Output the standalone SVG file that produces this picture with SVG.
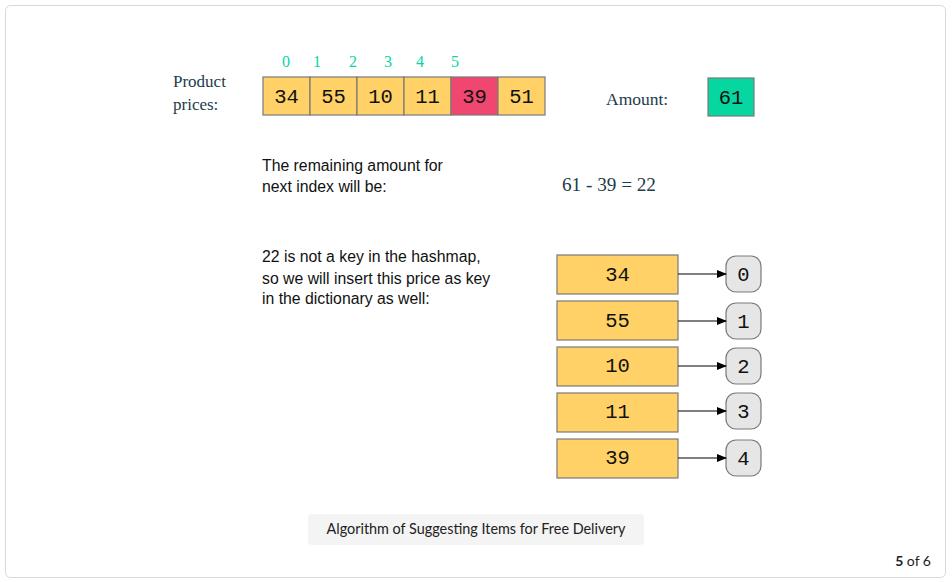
<svg xmlns="http://www.w3.org/2000/svg" width="952" height="582" viewBox="0 0 952 582">
<defs>
<style>
.cell{stroke:#7a7a7a;stroke-width:1.2}
.y{fill:#FFD166}
.r{fill:#EF476F}
.g{fill:#06D6A0}
.mono{font-family:"Liberation Mono","DejaVu Sans Mono",monospace;font-size:20.5px;fill:#111;text-anchor:middle}
.serif{font-family:"Liberation Serif","DejaVu Serif",serif;fill:#1d3b4a}
.sans{font-family:"Liberation Sans",Arial,sans-serif;font-size:15.8px;fill:#111}
.idx{font-family:"Liberation Serif",serif;font-size:16px;fill:#06D6A0;text-anchor:middle}
.node{fill:#e6e6e6;stroke:#7a7a7a;stroke-width:1.2}
.conn{stroke:#000;stroke-width:1.2;fill:none;marker-end:url(#ah)}
</style>
<marker id="ah" markerWidth="10" markerHeight="8" refX="9" refY="4" orient="auto" markerUnits="userSpaceOnUse">
<path d="M0,0 L10,4 L0,8 z" fill="#000"/>
</marker>
</defs>
<rect x="0" y="0" width="952" height="582" fill="#fff"/>
<rect x="5.5" y="5.5" width="940" height="572" rx="5" fill="#fff" stroke="#d9d9d9"/>

<g id="labels">
<text class="serif" x="173" y="87" font-size="17">Product</text>
<text class="serif" x="173" y="110" font-size="17">prices:</text>
<text class="idx" x="286" y="67">0</text>
<text class="idx" x="317" y="67">1</text>
<text class="idx" x="353" y="67">2</text>
<text class="idx" x="388" y="67">3</text>
<text class="idx" x="420" y="67">4</text>
<text class="idx" x="455" y="67">5</text>
<text class="serif" x="606" y="105" font-size="17.5">Amount:</text>
<text class="sans" x="262" y="171">The remaining amount for</text>
<text class="sans" x="262" y="192">next index will be:</text>
<text class="serif" x="562" y="191" font-size="19.2">61 - 39 = 22</text>
<text class="sans" x="262" y="262">22 is not a key in the hashmap,</text>
<text class="sans" x="262" y="284">so we will insert this price as key</text>
<text class="sans" x="262" y="304">in the dictionary as well:</text>
</g>

<g id="array">
<rect class="cell y" x="263" y="77" width="47" height="38"/>
<rect class="cell y" x="310" y="77" width="47" height="38"/>
<rect class="cell y" x="357" y="77" width="47" height="38"/>
<rect class="cell y" x="404" y="77" width="47" height="38"/>
<rect class="cell r" x="451" y="77" width="47" height="38"/>
<rect class="cell y" x="498" y="77" width="47" height="38"/>
<text class="mono" x="286.5" y="103">34</text>
<text class="mono" x="333.5" y="103">55</text>
<text class="mono" x="380.5" y="103">10</text>
<text class="mono" x="427.5" y="103">11</text>
<text class="mono" x="474.5" y="103">39</text>
<text class="mono" x="521.5" y="103">51</text>
</g>

<g id="amount">
<rect class="cell g" x="708" y="78" width="46" height="38"/>
<text class="mono" x="731" y="104">61</text>
</g>

<g id="keys">
<rect class="cell y" x="557" y="255" width="121" height="39"/>
<rect class="cell y" x="557" y="301" width="121" height="39"/>
<rect class="cell y" x="557" y="347" width="121" height="39"/>
<rect class="cell y" x="557" y="393" width="121" height="39"/>
<rect class="cell y" x="557" y="439" width="121" height="39"/>
<text class="mono" x="617.5" y="281">34</text>
<text class="mono" x="617.5" y="327">55</text>
<text class="mono" x="617.5" y="372">10</text>
<text class="mono" x="617.5" y="418">11</text>
<text class="mono" x="617.5" y="464">39</text>
</g>

<g id="values">
<rect class="node" x="726" y="256" width="35" height="36" rx="10"/>
<rect class="node" x="726" y="303" width="35" height="36" rx="10"/>
<rect class="node" x="726" y="348" width="35" height="36" rx="10"/>
<rect class="node" x="726" y="393" width="35" height="36" rx="10"/>
<rect class="node" x="726" y="440" width="35" height="36" rx="10"/>
<text class="mono" x="743.5" y="281">0</text>
<text class="mono" x="743.5" y="328">1</text>
<text class="mono" x="743.5" y="373">2</text>
<text class="mono" x="743.5" y="418">3</text>
<text class="mono" x="743.5" y="465">4</text>
</g>

<g id="connectors">
<line class="conn" x1="678" y1="274" x2="726" y2="274"/>
<line class="conn" x1="678" y1="321" x2="726" y2="321"/>
<line class="conn" x1="678" y1="366" x2="726" y2="366"/>
<line class="conn" x1="678" y1="411" x2="726" y2="411"/>
<line class="conn" x1="678" y1="458" x2="726" y2="458"/>
</g>

<g id="caption">
<rect x="308" y="514" width="336" height="31" rx="4" fill="#f4f4f4"/>
<text x="476" y="534" text-anchor="middle" font-family="Lato,'Open Sans',sans-serif" font-size="14.4" fill="#222">Algorithm of Suggesting Items for Free Delivery</text>
</g>
<text x="931" y="566" text-anchor="end" font-family="Lato,'Open Sans',sans-serif" font-size="14" fill="#222"><tspan font-weight="bold">5</tspan> of 6</text>
</svg>
